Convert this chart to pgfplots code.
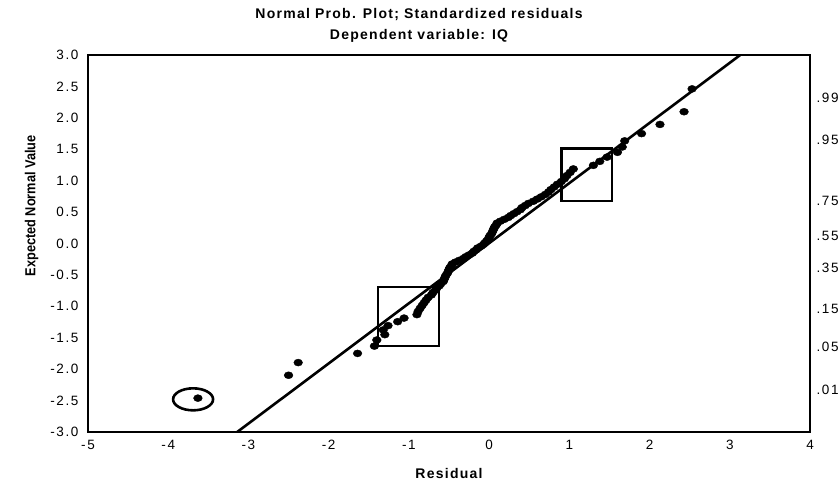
\documentclass[border=0pt]{standalone}
\usepackage{pgfplots}
\pgfplotsset{compat=1.18}
\usepackage{fontspec}
\setmainfont{Liberation Sans}
\newfontfamily\trackfont[LetterSpace=12]{Liberation Sans}
\newfontfamily\tracktitle[LetterSpace=9]{Liberation Sans}
\begin{document}
\begin{tikzpicture}
\useasboundingbox (-88pt,-51pt) rectangle (752pt,432pt);
\begin{axis}[
  at={(0,0)}, anchor=south west,
  scale only axis, width=722pt, height=377pt,
  xmin=-5, xmax=4, ymin=-3, ymax=3,
  xtick={-5,-4,...,4}, ytick={-3,-2.5,...,3},
  /pgf/number format/assume math mode=true,
  yticklabel={\pgfmathprintnumber[fixed,fixed zerofill,precision=1]{\tick}},
  major tick length=0pt,
  axis line style={line width=2.6pt},
  tick label style={font=\fontsize{13.5}{15}\trackfont},
  xticklabel style={yshift=-5pt},
  yticklabel style={xshift=-6pt},
  xlabel={\fontsize{14}{16}\tracktitle\bfseries Residual},
  xlabel style={at={(axis description cs:0.5,0)}, anchor=center, yshift=-41pt},
  ylabel={\scalebox{0.88}[1]{\fontsize{14.5}{16}\selectfont\bfseries Expected Normal Value}},
  ylabel style={at={(axis description cs:-0.078,0.6)}, anchor=center},
  title={Normal Prob. Plot; Standardized residuals\\Dependent variable: IQ},
  title style={font=\fontsize{14}{21}\tracktitle\bfseries, align=center, anchor=south, at={(axis description cs:0.5,1)}, xshift=-30pt, yshift=3pt},
]
\addplot[line width=2.6pt, no marks] coordinates {(-3.14,-3) (3.13,3)};
\addplot[only marks, mark=*, mark size=3.5pt, mark options={xscale=1.25, draw=black, fill=black}] coordinates {
(-3.63,-2.461) (-2.50,-2.097) (-2.38,-1.895) (-1.64,-1.749) (-1.43,-1.633)
(-1.40,-1.536) (-1.30,-1.451) (-1.32,-1.375) (-1.26,-1.307) (-1.14,-1.244)
(-1.06,-1.187) (-0.90,-1.132) (-0.885,-1.081) (-0.86,-1.032) (-0.835,-0.986)
(-0.81,-0.942) (-0.785,-0.899) (-0.76,-0.858) (-0.72,-0.819) (-0.70,-0.780)
(-0.67,-0.743) (-0.65,-0.707) (-0.62,-0.672) (-0.60,-0.638) (-0.57,-0.604)
(-0.56,-0.571) (-0.55,-0.539) (-0.54,-0.507) (-0.52,-0.476) (-0.51,-0.445)
(-0.50,-0.415) (-0.49,-0.385) (-0.47,-0.355) (-0.46,-0.325) (-0.42,-0.296)
(-0.37,-0.267) (-0.32,-0.239) (-0.29,-0.210) (-0.25,-0.182) (-0.21,-0.154)
(-0.19,-0.125) (-0.16,-0.097) (-0.14,-0.069) (-0.10,-0.042) (-0.07,-0.014)
(-0.05,0.014) (-0.03,0.042) (-0.01,0.069) (0.00,0.097) (0.01,0.125)
(0.03,0.154) (0.04,0.182) (0.05,0.210) (0.06,0.239) (0.07,0.267)
(0.09,0.296) (0.10,0.325) (0.14,0.355) (0.19,0.385) (0.24,0.415)
(0.27,0.445) (0.31,0.476) (0.35,0.507) (0.39,0.539) (0.41,0.571)
(0.45,0.604) (0.49,0.638) (0.55,0.672) (0.60,0.707) (0.65,0.743)
(0.70,0.780) (0.74,0.819) (0.77,0.858) (0.81,0.899) (0.85,0.942)
(0.90,0.986) (0.94,1.032) (0.97,1.081) (1.01,1.132) (1.05,1.187)
(1.30,1.244) (1.38,1.307) (1.47,1.375) (1.60,1.451) (1.66,1.536)
(1.69,1.633) (1.90,1.749) (2.13,1.895) (2.43,2.097) (2.53,2.461)
};
\draw[line width=2.6pt] (axis cs:-3.69,-2.48) ellipse [x radius=20pt, y radius=11pt];
\draw[line width=2.6pt] (axis cs:-1.384,-1.634) rectangle (axis cs:-0.623,-0.694);
\draw[line width=2.6pt] (axis cs:0.906,0.675) rectangle (axis cs:1.53,1.514);
\end{axis}
\begin{axis}[
  at={(0,0)}, anchor=south west,
  scale only axis, width=722pt, height=377pt,
  xmin=0, xmax=1, ymin=-3, ymax=3,
  hide x axis, axis y line*=right, y axis line style={draw=none},
  major tick length=0pt,
  ytick={-2.326,-1.645,-1.036,-0.385,0.126,0.674,1.645,2.326},
  yticklabels={.01,.05,.15,.35,.55,.75,.95,.99},
  yticklabel style={font=\fontsize{13.5}{15}\trackfont, xshift=3pt},
]
\end{axis}
\end{tikzpicture}
\end{document}
